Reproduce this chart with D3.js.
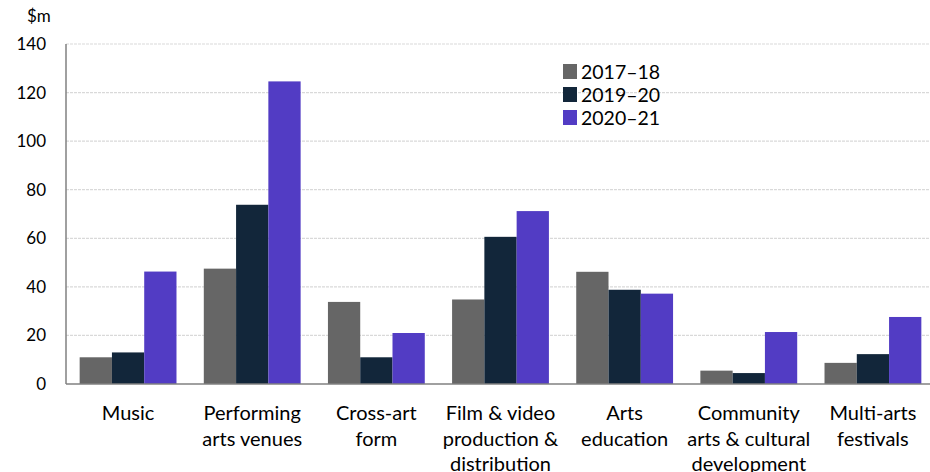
<!DOCTYPE html>
<html>
<head>
<meta charset="utf-8">
<script src="https://cdn.jsdelivr.net/npm/d3@7"></script>
<style>
  body { margin: 0; background: #fff; }
  svg { display: block; font-family: Lato, "Open Sans", sans-serif; }
</style>
</head>
<body>
<div id="chart"></div>
<script>
// data
const categories = [
  ["Music"],
  ["Performing", "arts venues"],
  ["Cross-art", "form"],
  ["Film & video", "production &", "distribution"],
  ["Arts", "education"],
  ["Community", "arts & cultural", "development"],
  ["Multi-arts", "festivals"]
];
const seriesNames = ["2017\u201318", "2019\u201320", "2020\u201321"];
const values1718 = [11, 47.5, 33.8, 34.8, 46.2, 5.5, 8.7];
const values1920 = [13, 73.8, 11, 60.6, 38.8, 4.5, 12.3];
const values2021 = [46.3, 124.6, 21, 71.2, 37.2, 21.4, 27.6];
const yTicks = [0, 20, 40, 60, 80, 100, 120, 140];
const colors = ["#666666", "#12263a", "#523cc4"];

const w = 930, h = 472;
const padLeft = 66, padTop = 44, padBot = 88;

const svg = d3.select("#chart").append("svg")
  .attr("width", w).attr("height", h);

const series = [values1718, values1920, values2021];

const xScale = d3.scaleBand()
  .domain(d3.range(categories.length))
  .range([padLeft, 935])
  .paddingInner(0.22).paddingOuter(0.11);
const xInner = d3.scaleBand()
  .domain(d3.range(series.length))
  .range([0, xScale.bandwidth()]);
const yScale = d3.scaleLinear()
  .domain([0, 140])
  .range([h - padBot, padTop]);

// gridlines
svg.append("g")
  .selectAll("line")
  .data(yTicks.filter(t => t > 0))
  .join("line")
  .attr("x1", padLeft).attr("x2", w)
  .attr("y1", d => yScale(d)).attr("y2", d => yScale(d))
  .attr("stroke", "#d9d9d9")
  .attr("stroke-width", 1.2)
  .attr("stroke-dasharray", "3,1");

// y tick labels
svg.append("g")
  .selectAll("text")
  .data(yTicks)
  .join("text")
  .attr("x", 46)
  .attr("y", d => yScale(d))
  .attr("dy", "0.35em")
  .attr("text-anchor", "end")
  .attr("font-size", 17)
  .attr("fill", "#000")
  .text(d => d);

svg.append("text")
  .attr("x", 27).attr("y", 22)
  .attr("font-size", 17)
  .text("$m");

// bars
series.forEach((vals, si) => {
  svg.append("g")
    .selectAll("rect")
    .data(vals)
    .join("rect")
    .attr("x", (d, i) => xScale(i) + xInner(si))
    .attr("y", d => yScale(d))
    .attr("width", xInner.bandwidth())
    .attr("height", d => yScale(0) - yScale(d))
    .attr("fill", colors[si]);
});

// axes lines
svg.append("line")
  .attr("x1", padLeft).attr("x2", padLeft)
  .attr("y1", yScale(140)).attr("y2", yScale(0))
  .attr("stroke", "#808080").attr("stroke-width", 1.5);
svg.append("line")
  .attr("x1", padLeft).attr("x2", w)
  .attr("y1", yScale(0)).attr("y2", yScale(0))
  .attr("stroke", "#808080").attr("stroke-width", 1.5);

// x labels
const xl = svg.append("g")
  .selectAll("text")
  .data(categories)
  .join("text")
  .attr("x", (d, i) => xScale(i) + xScale.bandwidth() / 2)
  .attr("y", 420)
  .attr("text-anchor", "middle")
  .attr("font-size", 20)
  .attr("fill", "#000");
xl.each(function(lines) {
  const t = d3.select(this);
  lines.forEach((ln, k) => {
    t.append("tspan")
      .attr("x", t.attr("x"))
      .attr("dy", k === 0 ? 0 : 25.5)
      .text(ln);
  });
});

// legend
const legend = svg.append("g").attr("transform", "translate(563, 64)");
seriesNames.forEach((name, i) => {
  legend.append("rect")
    .attr("x", 0).attr("y", i * 23)
    .attr("width", 14).attr("height", 15)
    .attr("fill", colors[i]);
  legend.append("text")
    .attr("x", 18).attr("y", i * 23 + 8)
    .attr("dy", "0.35em")
    .attr("font-size", 19.5)
    .text(name);
});
</script>
</body>
</html>
